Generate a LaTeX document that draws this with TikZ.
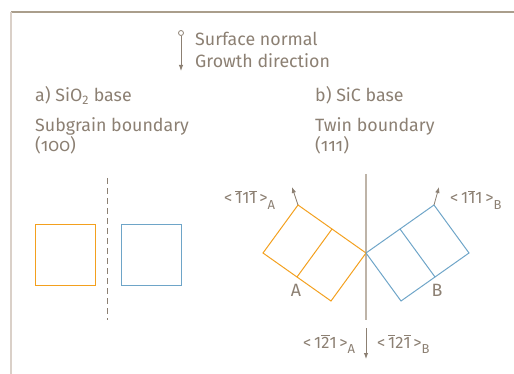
\documentclass[tikz,border=0pt]{standalone}
\usepackage{fontspec}
\setmainfont{Fira Sans}
\usepackage{xcolor}
\usepackage{tikz}
\usetikzlibrary{arrows.meta,positioning,calc}

\definecolor{txtgray}{RGB}{140,128,115}
\definecolor{topline}{RGB}{170,158,140}
\definecolor{sideline}{RGB}{218,208,200}
\definecolor{twinline}{RGB}{190,180,168}
\definecolor{grainA}{RGB}{243,160,30}
\definecolor{grainB}{RGB}{110,165,200}

\newcommand{\ovl}[1]{$\overline{\mbox{#1}}$}
\newcommand{\lblsub}[1]{\raisebox{-0.6ex}{\fontsize{13}{13}\selectfont #1}}
\newcommand{\onum}[1]{{\addfontfeatures{Numbers=OldStyle}#1}}

\begin{document}
\begin{tikzpicture}[
  x=1pt,y=-1pt,
  node distance=6pt,
  lbl/.style={font=\fontsize{17.8}{21}\selectfont,text=txtgray,inner sep=0pt,anchor=base west},
  dir/.style={font=\fontsize{16.5}{19}\selectfont,text=txtgray,inner sep=0pt,anchor=base west},
  frame/.style={line width=1.3pt},
  grain/.style={line width=1pt},
  arr/.style={-{Latex[length=6pt,width=4.5pt]},txtgray,line width=1pt}
]
  \useasboundingbox (0,0) rectangle (514,374);
  % frame
  \coordinate (corner) at (11,12);
  \draw[frame,topline] (corner) -- (514,12);
  \draw[frame,sideline] (corner) -- (11,374);

  % legend
  \node[circle,draw=txtgray,line width=0.8pt,inner sep=0pt,minimum size=5pt] (pin) at (181,33) {};
  \coordinate (pintip) at (181,71);
  \draw[arr] (pin) -- (pintip);
  \node[lbl] (surf) at (195,46) {Surface normal};
  \node[lbl] (grow) at (195,68) {Growth direction};

  % a) SiO2 base
  \node[lbl] (baseA) at (35,102) {a) SiO\textsubscript{2} base};
  \node[lbl] (sgb) at (35,132) {Subgrain boundary};
  \node[lbl] (sgbidx) at (35,152) {(\onum{100})};
  \coordinate (dashtop) at (107,178);
  \coordinate (dashbot) at (107,320);
  \draw[txtgray,line width=1pt,dash pattern=on 6pt off 4pt] (dashtop) -- (dashbot);
  \draw[grain,grainA] (35,225) rectangle (95,285);
  \draw[grain,grainB] (121,225) rectangle (181,285);

  % b) SiC base
  \node[lbl] (baseB) at (315,102) {b) SiC base};
  \node[lbl] (twb) at (315,132) {Twin boundary};
  \node[lbl] (twbidx) at (315,152) {(\onum{111})};
  \coordinate (twtop) at (366,174);
  \coordinate (twbot) at (366,320);
  \draw[twinline,line width=1.6pt] (twtop) -- (twbot);

  % grain A
  \coordinate (aL) at (263,253);
  \coordinate (aT) at (298,205);
  \coordinate (aR) at (366,253);
  \coordinate (aB) at (331,301);
  \draw[grain,grainA] (aL) -- (aT) -- (aR) -- (aB) -- cycle;
  \draw[grain,grainA] ($(aT)!0.5!(aR)$) -- ($(aL)!0.5!(aB)$);
  % grain B
  \coordinate (bL) at (366,253);
  \coordinate (bT) at (434,205);
  \coordinate (bR) at (469,253);
  \coordinate (bB) at (401,301);
  \draw[grain,grainB] (bL) -- (bT) -- (bR) -- (bB) -- cycle;
  \draw[grain,grainB] ($(bL)!0.5!(bT)$) -- ($(bB)!0.5!(bR)$);

  % surface normals
  \coordinate (nA) at (292,187);
  \coordinate (nB) at (439,187);
  \draw[arr,line width=0.8pt] (aT) -- (nA);
  \draw[arr,line width=0.8pt] (bT) -- (nB);
  \node[dir] (dirA) at (224,204) {<\,\ovl{1}1\ovl{1}\,>\lblsub{A}};
  \node[dir] (dirB) at (450,204) {<\,1\ovl{1}1\,>\lblsub{B}};
  \node[lbl,anchor=base] (labA) at (296,296) {A};
  \node[lbl,anchor=base] (labB) at (437,296) {B};

  % growth direction
  \coordinate (gtop) at (366,328);
  \coordinate (gtip) at (366,359);
  \draw[arr] (gtop) -- (gtip);
  \node[dir] (growA) at (303,348) {<\,1\ovl{2}1\,>\lblsub{A}};
  \node[dir] (growB) at (377,348) {<\,\ovl{1}2\ovl{1}\,>\lblsub{B}};
\end{tikzpicture}
\end{document}
